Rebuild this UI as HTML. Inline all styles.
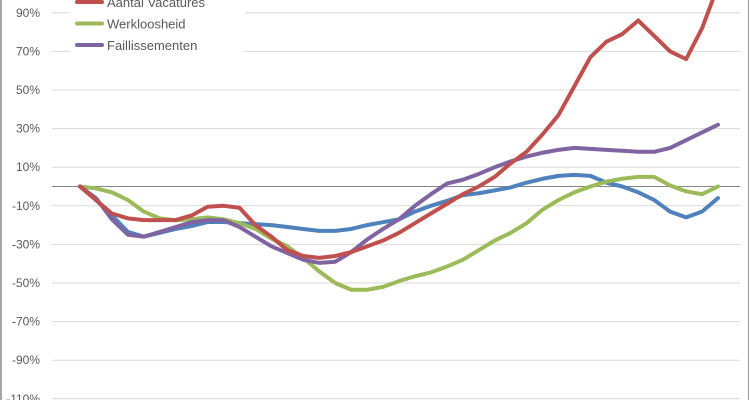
<!DOCTYPE html>
<html><head><meta charset="utf-8"><style>
html,body{margin:0;padding:0;background:#fff;}
svg{display:block;font-family:"Liberation Sans",sans-serif;}
</style></head><body>
<svg id="chart" width="750" height="400">
<rect x="0" y="0" width="750" height="400" fill="#fff"/>
<line x1="1" y1="0" x2="1" y2="400" stroke="#888" stroke-width="1.5"/>
<line x1="748.5" y1="0" x2="748.5" y2="400" stroke="#999" stroke-width="1"/>
<g id="grid"></g><g id="ylabels"></g><g id="series"></g><g id="legend"></g>
</svg>
<script>
const yTicks=[90,70,50,30,10,-10,-30,-50,-70,-90,-110];
const red=[0,-7,-14,-16.5,-17.4,-17.4,-17.4,-15,-10.5,-10,-11,-20,-26,-33,-36,-37,-36,-34,-31,-28,-24,-19,-14,-9,-4,0,5,12,18,27,37,52,67,75,79,86,78,70,66,82,104];
const green=[0,-1,-3,-7,-13,-16.5,-17.5,-17,-16,-17,-19,-22,-27,-31,-37,-44,-50,-53.5,-53.5,-52,-49,-46.5,-44.5,-41.5,-38,-33,-28,-24,-19,-12,-7,-3,0,2.5,4,5,5,0.5,-2.5,-4,0];
const blue=[0,-7,-15,-23.5,-26,-24,-22,-20.5,-18.4,-18.4,-19,-19.5,-20,-21,-22,-23,-23,-22,-20,-18.5,-17,-13,-10,-7.5,-4.5,-3.5,-2,-0.5,2,4,5.5,6,5.5,2,0,-3,-7,-13,-16,-13,-6];
const purple=[0,-6,-17,-25,-26,-23.5,-21,-18.5,-17.4,-17.5,-21,-26,-31,-34.5,-38,-39.6,-39,-34,-27.5,-22,-17,-10,-4,1.5,3.5,6.5,10,13,15.5,17.5,19,20,19.5,19,18.5,18,18,20,24,28,32];
const seriesNames=["Aantal Vacatures","Werkloosheid","Faillissementen"];
const NS="http://www.w3.org/2000/svg";
function yS(v){return 186.5-v*1.93;}
function xS(i){return 80+i*638/(red.length-1);}
function mk(t,a,p){const e=document.createElementNS(NS,t);for(const k in a)e.setAttribute(k,a[k]);p.appendChild(e);return e;}
const grid=document.getElementById('grid'),yl=document.getElementById('ylabels');
yTicks.forEach(v=>{
 const l=mk('line',{x1:52,x2:740,y1:yS(v),y2:yS(v),stroke:'#d9d9d9','stroke-width':1},grid);
 
 
 const t=mk('text',{x:40,y:yS(v)+4,'text-anchor':'end','font-size':12,fill:'#595959'},yl);
 t.textContent=v+'%';
 
 
});
const z=mk('line',{x1:52,x2:740,y1:yS(0),y2:yS(0),stroke:'#868686','stroke-width':1},grid);


const sg=document.getElementById('series');
[[blue,'#4f81bd','series-blue'],[green,'#9bbb59','series-werkloosheid'],[purple,'#8064a2','series-faillissementen'],[red,'#c0504d','series-aantal-vacatures']].forEach(([d,c,n])=>{
 const p=mk('polyline',{points:d.map((v,i)=>xS(i)+','+yS(v)).join(' '),fill:'none',stroke:c,'stroke-width':4,'stroke-linejoin':'round','stroke-linecap':'round'},sg);
 
 
});
const lg=document.getElementById('legend');
mk('rect',{x:70,y:0,width:175,height:56,fill:'#fff'},lg);
['#c0504d','#9bbb59','#8064a2'].forEach((c,i)=>{
 const y=2+i*21.5;
 const s=mk('line',{x1:77,x2:102,y1:y,y2:y,stroke:c,'stroke-width':4,'stroke-linecap':'round'},lg);
 
 
 const t=mk('text',{x:107,y:y+5,'font-size':13,fill:'#595959'},lg);
 t.textContent=seriesNames[i];
 
 
});
</script>
</body></html>
